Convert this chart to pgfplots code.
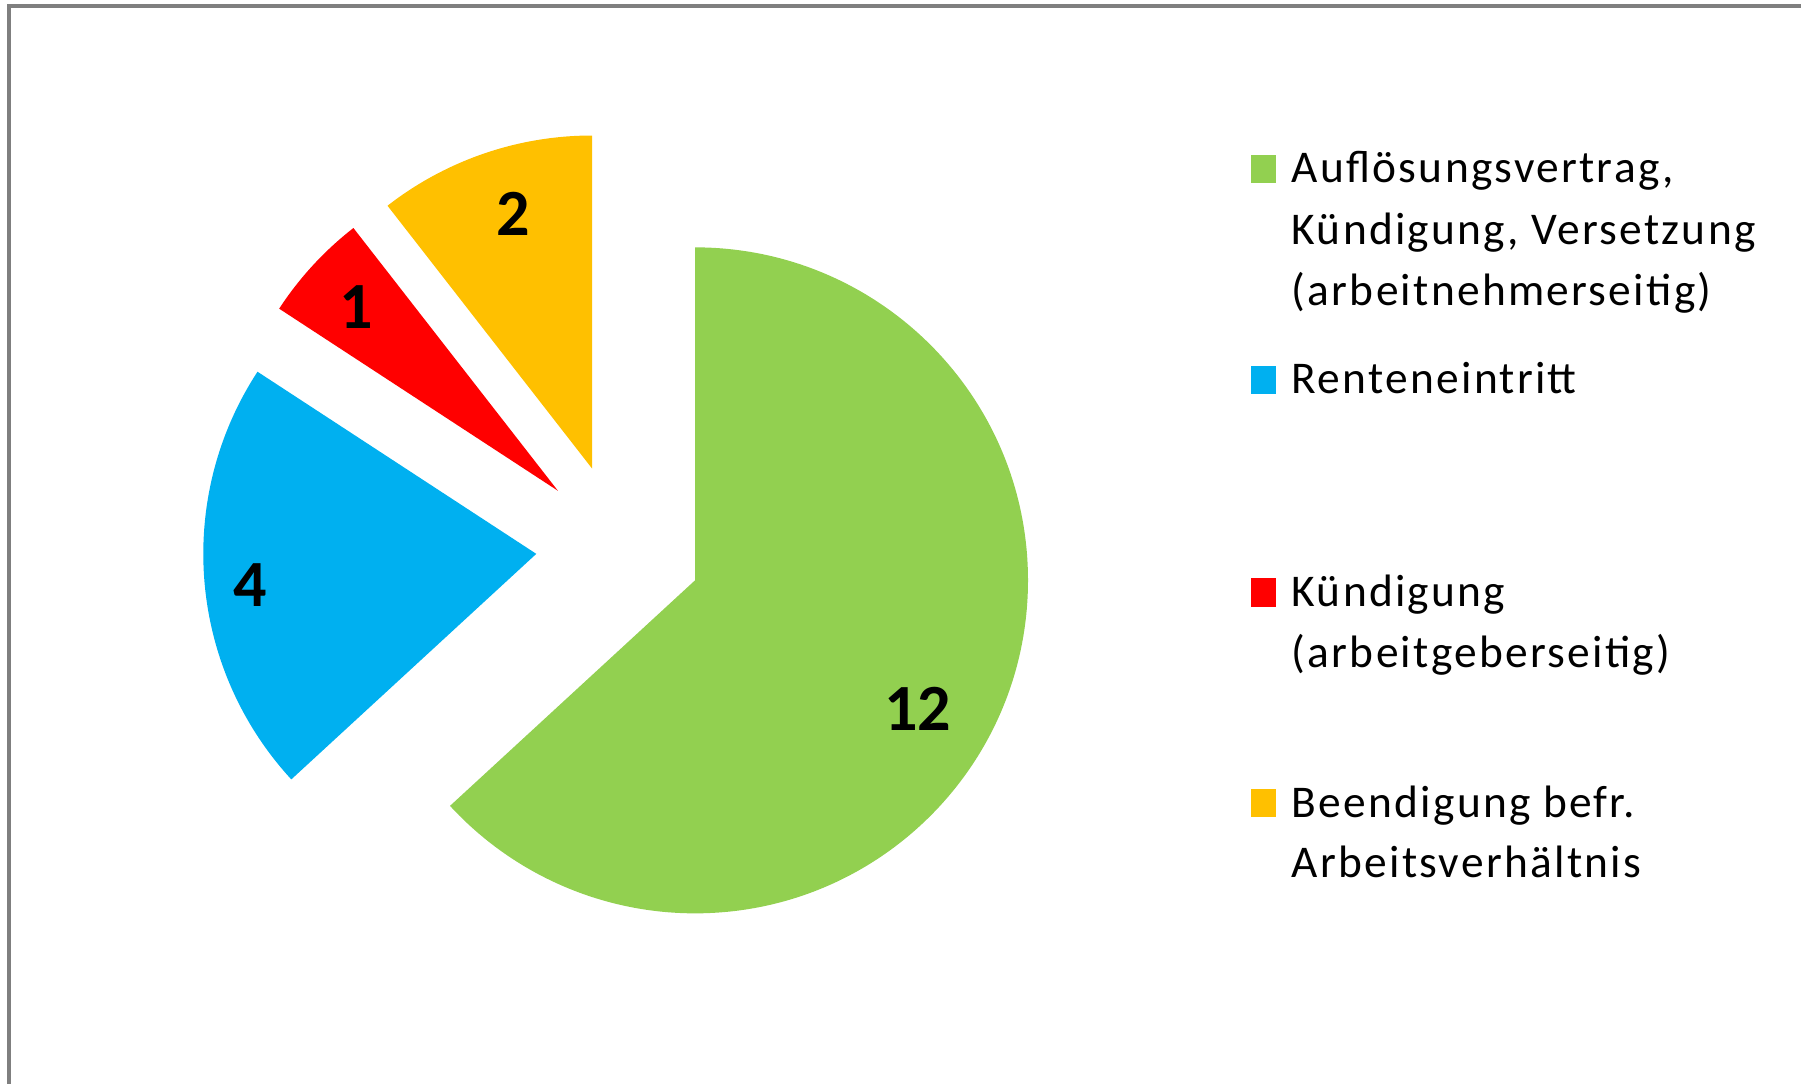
\documentclass[border=0pt]{standalone}
\usepackage{pgfplots}
\pgfplotsset{compat=1.18}
\usepackage{pgfplotstable}
\usepackage{fontspec}
\setmainfont{Carlito}
\newfontfamily\legfamily[LetterSpace=5]{Carlito}
\usetikzlibrary{calc}

\definecolor{cGreen}{HTML}{92D050}
\definecolor{cBlue}{HTML}{00B0F0}
\definecolor{cRed}{HTML}{FF0000}
\definecolor{cOrange}{HTML}{FFC000}
\definecolor{cFrame}{HTML}{7F7F7F}

% slice values, clockwise from 12 o'clock
\pgfplotstableread{
value
12
4
1
2
}\piedata

\pgfplotstablegetelem{0}{value}\of\piedata \let\vA\pgfplotsretval
\pgfplotstablegetelem{1}{value}\of\piedata \let\vB\pgfplotsretval
\pgfplotstablegetelem{2}{value}\of\piedata \let\vC\pgfplotsretval
\pgfplotstablegetelem{3}{value}\of\piedata \let\vD\pgfplotsretval

\pgfmathsetmacro\total{\vA+\vB+\vC+\vD}
\pgfmathsetmacro\aA{90}
\pgfmathsetmacro\aB{\aA-360*\vA/\total}
\pgfmathsetmacro\aC{\aB-360*\vB/\total}
\pgfmathsetmacro\aD{\aC-360*\vC/\total}
\pgfmathsetmacro\aE{\aD-360*\vD/\total}
\pgfmathsetmacro\mA{(\aA+\aB)/2}
\pgfmathsetmacro\mB{(\aB+\aC)/2}
\pgfmathsetmacro\mC{(\aC+\aD)/2}
\pgfmathsetmacro\mD{(\aD+\aE)/2}

% radius 333 px, explosion 83 px (1 px = 0.25pt)
\newcommand\pieslice[4]{%
  \fill[#1] ($(axis cs:619,547)+(#4:20.75pt)$) -- +(#2:83.25pt)
     arc[start angle=#2, end angle=#3, radius=83.25pt] -- cycle;}

\newcommand\legfont{\legfamily\fontsize{11.35}{13.6}\selectfont}
\newcommand\labfont{\fontsize{16.5}{19}\selectfont\bfseries}

\begin{document}
\begin{tikzpicture}
\begin{axis}[
  scale only axis,
  width=450.25pt, height=270.75pt,
  xmin=0, xmax=1801, ymin=0, ymax=1083,
  y dir=reverse,
  hide axis,
]
\path (axis cs:0,0) rectangle (axis cs:1801,1083);
% frame
\draw[cFrame, line width=1pt] (axis cs:9.5,1090) -- (axis cs:9.5,6) -- (axis cs:1810,6);

% slices
\pieslice{cGreen}{\aA}{\aB}{\mA}
\pieslice{cBlue}{\aB}{\aC}{\mB}
\pieslice{cRed}{\aC}{\aD}{\mC}
\pieslice{cOrange}{\aD}{\aE}{\mD}

% data labels
\node[font=\labfont, inner sep=0pt] at (axis cs:917.7,708.7) {\vA};
\node[font=\labfont, inner sep=0pt] at (axis cs:249.8,584.7) {\vB};
\node[font=\labfont, inner sep=0pt] at (axis cs:356,306.7) {\vC};
\node[font=\labfont, inner sep=0pt] at (axis cs:513.4,214.2) {\vD};

% legend
\fill[cGreen]  (axis cs:1251,155) rectangle (axis cs:1276,183);
\fill[cBlue]   (axis cs:1251,366) rectangle (axis cs:1276,394);
\fill[cRed]    (axis cs:1251,578) rectangle (axis cs:1276,607);
\fill[cOrange] (axis cs:1251,789) rectangle (axis cs:1276,817);

\begin{scope}[every node/.style={anchor=base west, inner sep=0pt, font=\legfont}]
\node at (axis cs:1291,182) {Auflösungsvertrag,};
\node at (axis cs:1291,244) {Kündigung, Versetzung};
\node at (axis cs:1291,305) {(arbeitnehmerseitig)};
\node at (axis cs:1291,393) {Renteneintritt};
\node at (axis cs:1291,606) {Kündigung};
\node at (axis cs:1291,667) {(arbeitgeberseitig)};
\node at (axis cs:1291,817) {Beendigung befr.};
\node at (axis cs:1291,877) {Arbeitsverhältnis};
\end{scope}
\end{axis}
\end{tikzpicture}
\end{document}
